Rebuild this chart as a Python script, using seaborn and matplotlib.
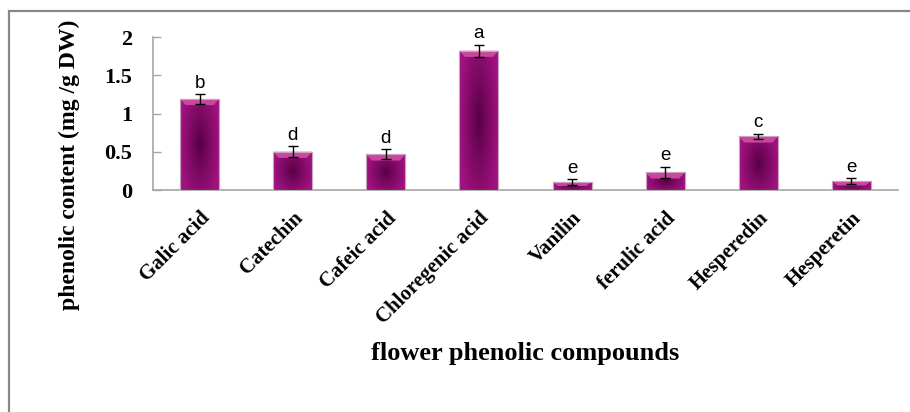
import numpy as np
import pandas as pd
import matplotlib.pyplot as plt
import seaborn as sns
from matplotlib.patches import Rectangle, Polygon
from matplotlib.colors import to_rgb

compounds = ['Galic acid', 'Catechin', 'Cafeic acid', 'Chloregenic acid',
             'Vanilin', 'ferulic acid', 'Hesperedin', 'Hesperetin']
content = [1.19, 0.50, 0.465, 1.82, 0.105, 0.23, 0.70, 0.118]
sd = [0.06, 0.07, 0.065, 0.075, 0.035, 0.075, 0.03, 0.035]
letters = ['b', 'd', 'd', 'a', 'e', 'e', 'c', 'e']

df = pd.DataFrame({'compound': compounds, 'content': content, 'sd': sd})

sns.set_style('white')
plt.rcParams['font.family'] = ['Liberation Serif', 'DejaVu Serif']
plt.rcParams['text.color'] = 'black'
plt.rcParams['xtick.labelcolor'] = 'black'
plt.rcParams['ytick.labelcolor'] = 'black'

W, H = 910, 412
fig = plt.figure(figsize=(W / 100, H / 100), dpi=100)
ax = fig.add_axes([153 / W, 1 - 190 / H, (898 - 153) / W, (190 - 37) / H])

sns.barplot(data=df, x='compound', y='content', color='#7a0a60',
            width=0.42, edgecolor='#c9a3bf', linewidth=0.8, ax=ax)

ax.errorbar(range(len(compounds)), df['content'], yerr=df['sd'], fmt='none',
            ecolor='black', elinewidth=1, capsize=3.6, capthick=1, zorder=6)

# shaded "pillow" fill for each bar
dark = np.array(to_rgb('#570044'))
light = np.array(to_rgb('#a0127f'))
uu, vv = np.meshgrid(np.linspace(0, 1, 60), np.linspace(0, 1, 120))
for p in ax.patches:
    x0, w, h = p.get_x(), p.get_width(), p.get_height()
    d = np.sqrt(((uu - 0.5) / 0.5) ** 2 + 0.5 * ((vv - 0.5) / 0.5) ** 2)
    t = np.clip(d, 0, 1) ** 0.9
    img = dark + (light - dark) * t[..., None]
    im = ax.imshow(img, extent=[x0, x0 + w, 0, h], aspect='auto',
                   origin='lower', zorder=3, interpolation='bilinear')
    im.set_clip_path(p)
    # top bevel
    dx, dy = 0.06, min(0.08, h * 0.5)
    ax.add_patch(Polygon([[x0, h], [x0 + w, h], [x0 + w - dx, h - dy],
                          [x0 + dx, h - dy]], closed=True,
                         facecolor='#c9489f', edgecolor='none', zorder=4))
    ax.add_patch(Rectangle((x0, 0), w, h, fill=False, edgecolor='#c9a3bf',
                           linewidth=0.8, zorder=5))

for i, (v, e, s) in enumerate(zip(content, sd, letters)):
    ax.text(i, v + e + 0.035, s, ha='center', va='bottom', fontsize=13.5,
            family=['Liberation Sans', 'DejaVu Sans'], zorder=7)

ax.set_xlim(-0.5, len(compounds) - 0.5)
ax.set_ylim(0, 2)
ax.set_yticks([0, 0.5, 1, 1.5, 2])
ax.set_yticklabels(['0', '0.5', '1', '1.5', '2'])
ax.set_xlabel('')
ax.set_ylabel('')

ax.set_xticks(np.arange(-0.5, len(compounds)), minor=True)
ax.tick_params(axis='x', which='major', length=0, pad=13)
ax.tick_params(axis='x', which='minor', direction='in', length=7,
               color='#a6a6a6', width=1)
ax.tick_params(axis='y', direction='in', length=6, color='#a6a6a6',
               width=1, pad=15)
ax.tick_params(axis='y', left=True)
for lab in ax.get_xticklabels():
    lab.set_rotation(45)
    lab.set_ha('right')
    lab.set_rotation_mode('anchor')
    lab.set_fontsize(15)
    lab.set_fontweight('bold')
for lab in ax.get_yticklabels():
    lab.set_fontsize(16)
    lab.set_fontweight('bold')

for side in ['top', 'right']:
    ax.spines[side].set_visible(False)
for side in ['left', 'bottom']:
    ax.spines[side].set_color('#a6a6a6')
    ax.spines[side].set_linewidth(1.2)

fig.text(69 / W, 1 - 165 / H, 'phenolic content (mg /g DW)', rotation=90,
         ha='center', va='center', fontsize=17, fontweight='bold')
fig.text(525 / W, 1 - 360 / H, 'flower phenolic compounds', ha='center',
         va='baseline', fontsize=19, fontweight='bold')

fig.add_artist(Rectangle((9 / W, -0.1), 1.2, 1 - 11 / H + 0.1, fill=False,
                         edgecolor='#878787', linewidth=1.6,
                         transform=fig.transFigure))

fig.savefig('out.png', dpi=100)
